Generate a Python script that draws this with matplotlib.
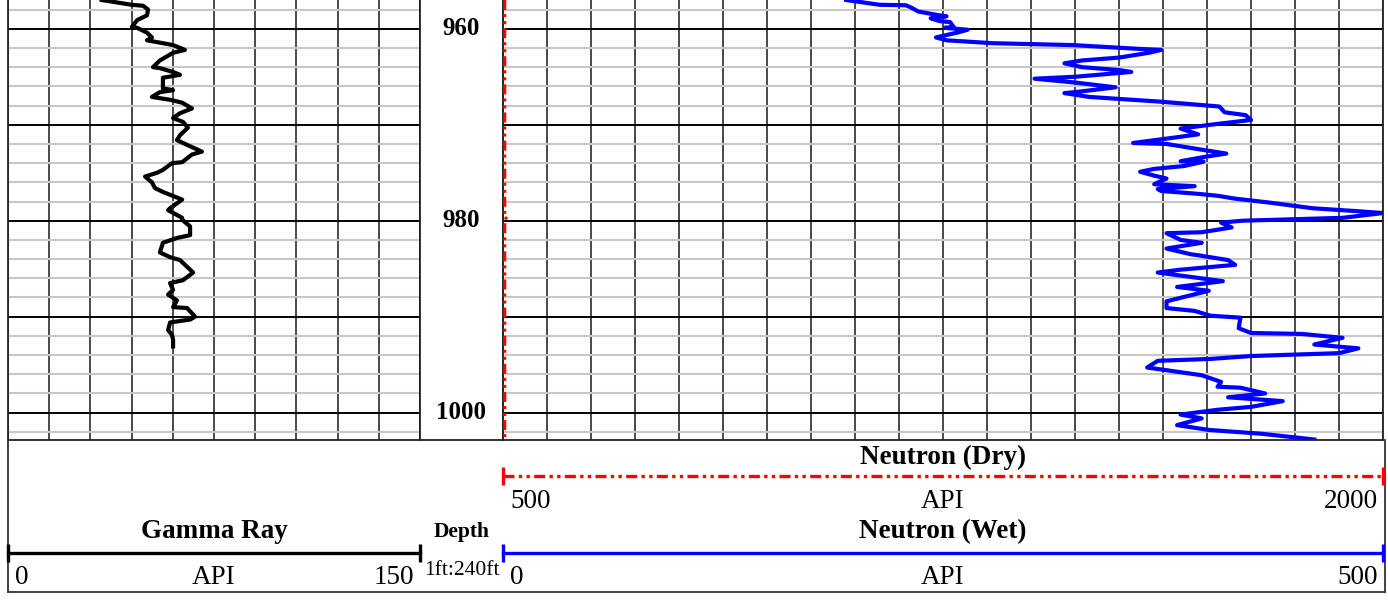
import matplotlib.pyplot as plt
import numpy as np

plt.rcParams['font.family'] = ['Liberation Serif', 'DejaVu Serif']

# =========================
# DATA (depth in ft, curves in API)
# =========================
gr_depth = [957.0, 957.5, 957.6, 958.0, 958.6, 959.1, 959.8, 959.9, 960.4, 960.9,
            961.2, 961.5, 961.7, 962.2, 962.5, 963.3, 964.0, 964.1, 964.5, 964.8,
            965.1, 966.2, 966.4, 966.6, 967.1, 967.4, 967.7, 968.3, 968.8, 969.3,
            969.7, 970.3, 971.1, 971.6, 972.1, 972.8, 973.1, 973.9, 974.0, 974.7,
            975.0, 975.4, 976.0, 976.6, 977.0, 977.5, 977.8, 978.7, 978.9, 979.7,
            979.9, 980.6, 981.5, 981.8, 982.3, 983.3, 983.8, 984.1, 984.8, 985.4,
            986.2, 986.5, 987.2, 987.7, 988.3, 989.0, 989.1, 990.0, 990.3, 990.6,
            991.4, 991.9, 992.4, 993.1]
gr_api = [34.1, 45.0, 49.2, 51.0, 50.6, 47.0, 45.1, 47.0, 50.6, 52.4,
          50.6, 56.4, 60.1, 64.4, 60.1, 55.3, 52.8, 55.3, 60.1, 62.6,
          56.4, 56.4, 60.1, 55.3, 52.4, 59.0, 63.4, 67.0, 62.6, 60.1,
          63.7, 65.5, 62.6, 61.5, 65.2, 70.6, 67.0, 63.4, 59.7, 56.4,
          54.3, 49.9, 52.4, 53.5, 56.4, 60.8, 63.4, 59.0, 58.3, 63.4,
          63.4, 66.3, 66.3, 61.5, 56.4, 55.3, 59.0, 62.6, 65.2, 67.4,
          63.7, 59.0, 60.1, 58.3, 61.5, 60.1, 65.2, 68.1, 66.3, 59.0,
          58.3, 59.7, 60.1, 60.1]

nw_depth = [957.0, 957.5, 957.55, 957.8, 958.2, 958.4, 958.6, 958.7, 958.9, 959.2,
            959.3, 959.8, 959.9, 960.1, 960.4, 960.9, 961.2, 961.5, 961.7, 962.1,
            962.2, 962.5, 963.0, 963.3, 963.6, 964.0, 964.3, 964.5, 965.0, 965.2,
            965.6, 966.1, 966.6, 966.7, 967.1, 967.6, 968.1, 968.7, 969.0, 969.5,
            970.0, 970.4, 971.0, 971.3, 971.9, 972.0, 972.6, 973.0, 973.4, 973.8,
            973.85, 974.3, 974.6, 974.9, 975.3, 975.6, 976.2, 976.4, 976.7, 976.9,
            977.2, 977.4, 977.7, 978.1, 978.7, 979.0, 979.2, 979.7, 980.0, 980.2,
            980.7, 981.2, 981.3, 982.0, 982.3, 982.9, 983.5, 983.6, 984.1, 984.6,
            985.1, 985.4, 986.3, 986.9, 987.3, 988.4, 989.1, 989.4, 989.9, 990.1,
            991.2, 991.7, 991.8, 992.2, 992.9, 993.3, 993.8, 994.1, 994.4, 994.6,
            995.3, 995.5, 996.1, 996.8, 997.3, 997.4, 998.0, 998.4, 998.8, 999.4,
            999.7, 1000.2, 1000.6, 1001.3, 1001.8, 1002.2, 1002.8]
nw_api = [195, 214, 229, 232, 236, 242, 248, 252, 243, 248,
          254, 256, 251, 264, 258, 246, 252, 278, 324, 362,
          374, 367, 350, 329, 319, 329, 350, 357, 325, 302,
          325, 348, 325, 319, 333, 374, 407, 410, 422, 425,
          402, 385, 395, 383, 358, 377, 397, 411, 397, 385,
          398, 387, 370, 362, 370, 377, 370, 393, 372, 374,
          395, 406, 416, 435, 460, 485, 500, 477, 420, 408,
          414, 397, 377, 385, 397, 377, 391, 395, 412, 416,
          385, 372, 409, 383, 401, 377, 377, 393, 402, 419,
          418, 425, 454, 477, 461, 486, 475, 425, 402, 372,
          366, 374, 397, 408, 406, 419, 433, 412, 443, 425,
          406, 385, 397, 383, 401, 431, 461]

nd_depth = [957.0, 979.3, 979.6, 979.9, 1002.9]
nd_api = [503, 503, 507, 503, 503]

depth_labels = [960, 980, 1000]
top_depth, base_depth = 957.0, 1002.85

# =========================
# FIGURE
# =========================
W, H = 1388, 602
fig = plt.figure(figsize=(W / 100, H / 100), dpi=100)


def px_axes(x0, y0, x1, y1):
    return fig.add_axes([x0 / W, 1 - y1 / H, (x1 - x0) / W, (y1 - y0) / H])


ax_gr = px_axes(8, 0, 420, 440)
ax_dp = px_axes(420, 0, 503, 440)
ax_nw = px_axes(503, 0, 1383, 440)

for ax in (ax_gr, ax_dp, ax_nw):
    ax.set_ylim(base_depth, top_depth)
    ax.tick_params(which="both", length=0, labelleft=False, labelbottom=False)
    ax.spines["top"].set_visible(False)
    for s in ("left", "right", "bottom"):
        ax.spines[s].set_color("#222222")
        ax.spines[s].set_linewidth(1.3)


def track_grid(ax, xmin, xmax, step):
    ax.set_xlim(xmin, xmax)
    ax.set_xticks(np.arange(xmin, xmax + step, step))
    ax.set_yticks(np.arange(960, 1001, 10))
    ax.set_yticks(np.arange(958, 1003, 2), minor=True)
    ax.grid(axis="y", which="minor", color="#c8c8c8", lw=1.5)
    ax.grid(axis="x", color="#3c3c3c", lw=1.3)
    ax.grid(axis="y", which="major", color="black", lw=1.4)
    ax.set_axisbelow(True)


track_grid(ax_gr, 0, 150, 15)
track_grid(ax_nw, 0, 500, 25)

ax_gr.plot(gr_api, gr_depth, color="black", lw=3.0)
ax_nw.plot(nw_api, nw_depth, color="blue", lw=3.0)

ax_nd = ax_nw.twiny()
ax_nd.set_xlim(500, 2000)
ax_nd.set_ylim(base_depth, top_depth)
ax_nd.axis("off")
ax_nd.plot(nd_api, nd_depth, color="red", lw=2.2,
           linestyle=(0, (3.3, 1.3, 1, 1.3, 1, 1.3)), zorder=5)

# depth track
ax_dp.set_xlim(0, 1)
ax_dp.set_xticks([])
ax_dp.set_yticks([])
for d in depth_labels:
    ax_dp.text(0.5, d, str(d), ha="center", va="center",
               fontsize=18, fontweight="bold")

# =========================
# HEADER
# =========================
frame = px_axes(8, 440, 1385, 592)
frame.set_xticks([])
frame.set_yticks([])
frame.patch.set_alpha(0)
frame.spines["top"].set_visible(False)
for s in ("left", "right", "bottom"):
    frame.spines[s].set_color("#333333")
    frame.spines[s].set_linewidth(1.3)

hd_gr = px_axes(8, 440, 420, 592)
hd_dp = px_axes(420, 440, 503, 592)
hd_nw = px_axes(503, 440, 1383, 592)
hd_nd = px_axes(503, 440, 1383, 592)
for ax in (hd_gr, hd_dp, hd_nw, hd_nd):
    ax.axis("off")
    ax.set_ylim(0, 1)
hd_gr.set_xlim(0, 150)
hd_nw.set_xlim(0, 500)
hd_nd.set_xlim(500, 2000)

TITLE_Y, LINE_Y, LABEL_Y = 0.395, 0.257, 0.095
D_TITLE_Y, D_LINE_Y, D_LABEL_Y = 0.888, 0.763, 0.595


def scale_header(ax, name, lo, hi, color, ls, ty, ly, lby):
    ax.text((lo + hi) / 2, ty, name, ha="center", va="center",
            fontsize=19.5, fontweight="bold")
    ax.plot([lo, hi], [ly, ly], color=color, lw=2.4, linestyle=ls,
            clip_on=False)
    ax.plot([lo, hi], [ly, ly], color=color, lw=0, marker="|",
            ms=13, mew=2.4, clip_on=False)
    ax.annotate(str(lo), (lo, lby), xytext=(5, 0), textcoords="offset points",
                ha="left", va="center", fontsize=19.5)
    ax.text((lo + hi) / 2, lby, "API", ha="center", va="center", fontsize=19.5)
    ax.annotate(str(hi), (hi, lby), xytext=(-4, 0), textcoords="offset points",
                ha="right", va="center", fontsize=19.5)


scale_header(hd_gr, "Gamma Ray", 0, 150, "black", "-", TITLE_Y, LINE_Y, LABEL_Y)
scale_header(hd_nw, "Neutron (Wet)", 0, 500, "blue", "-", TITLE_Y, LINE_Y, LABEL_Y)
scale_header(hd_nd, "Neutron (Dry)", 500, 2000, "red",
             (0, (3.3, 1.3, 1, 1.3, 1, 1.3)), D_TITLE_Y, D_LINE_Y, D_LABEL_Y)

hd_dp.set_xlim(0, 1)
hd_dp.text(0.5, TITLE_Y, "Depth", ha="center", va="center",
           fontsize=15.5, fontweight="bold")
hd_dp.text(0.5, 0.14, "1ft:240ft", ha="center", va="center", fontsize=15.5)

plt.savefig("out.png", dpi=100)
